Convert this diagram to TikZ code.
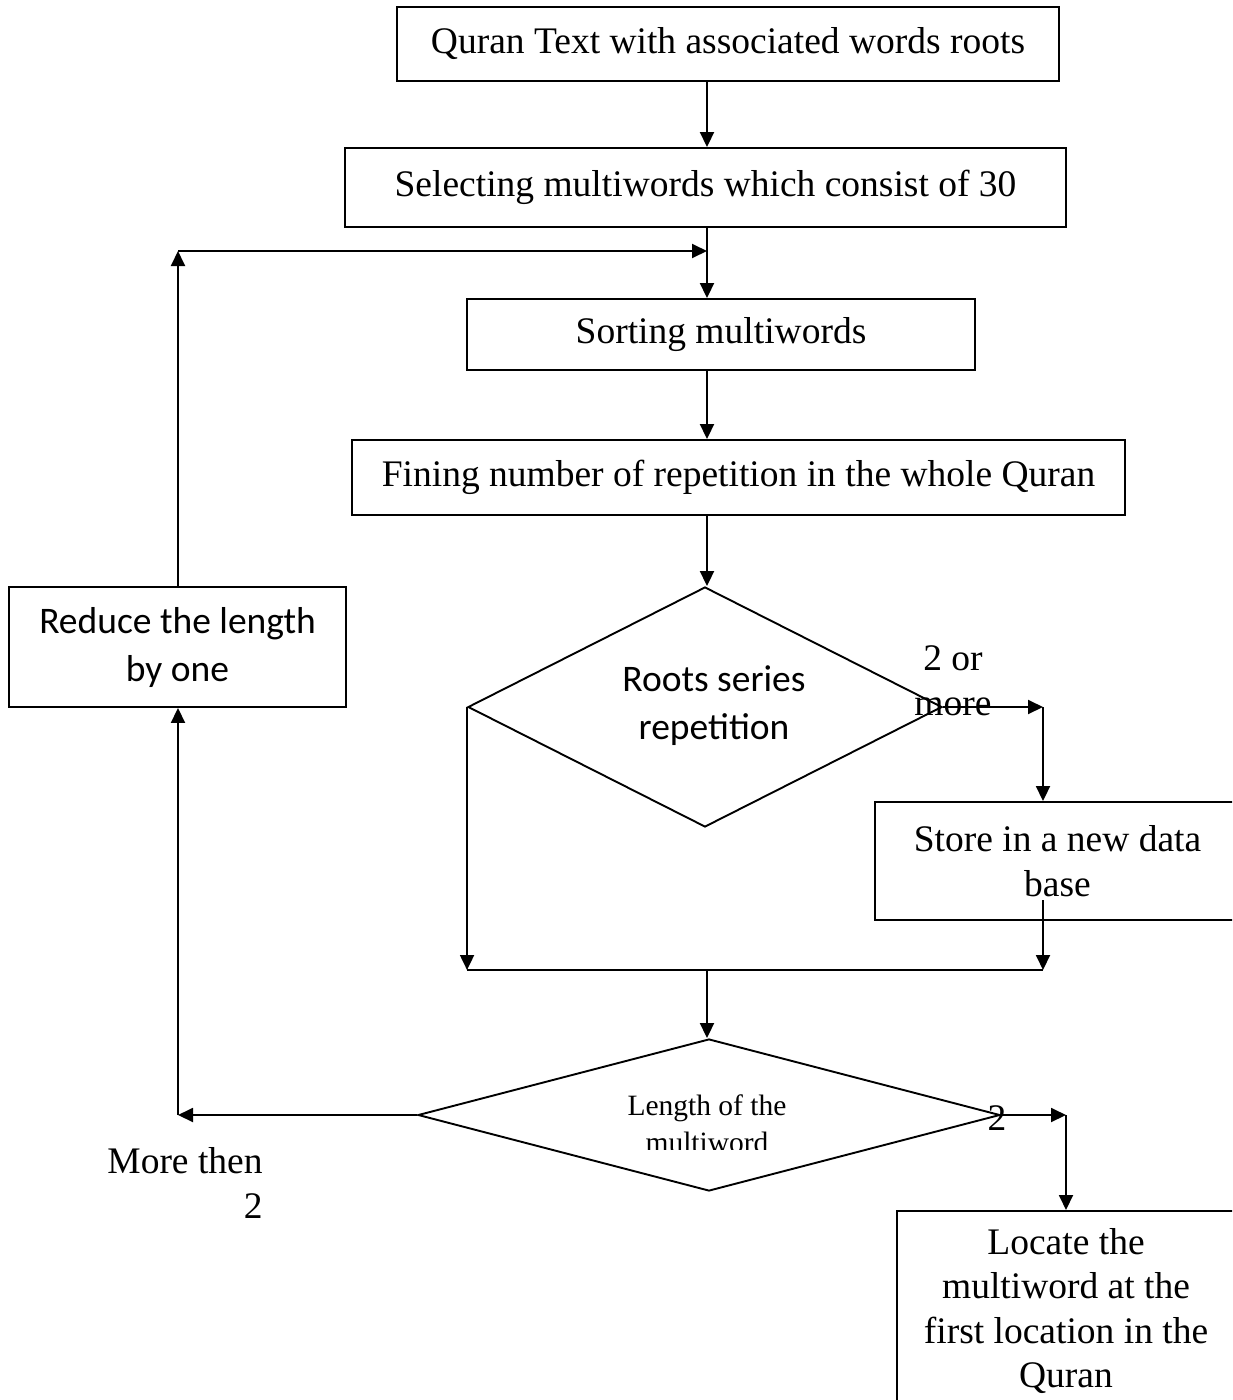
\documentclass[tikz,border=0pt]{standalone}
\usepackage{fontspec}
\setmainfont{Liberation Serif}
\newfontfamily\calib{Carlito}
\usetikzlibrary{shapes.geometric,arrows.meta}
\begin{document}
\begin{tikzpicture}[x=1pt,y=-1pt,
  every node/.style={font=\fontsize{37.5}{44.5}\selectfont},
  box/.style={draw,line width=1.9pt,rectangle,inner sep=0pt,align=center,fill=white},
  dia/.style={draw,line width=1.9pt,diamond,aspect=2,inner sep=0pt,align=center},
  conn/.style={line width=1.9pt},
  arr/.style={line width=1.9pt,-{Triangle[length=15pt,width=14pt]}},
  lbl/.style={inner sep=0pt,align=center}]
\useasboundingbox (0,0) rectangle (1232,1400);
\clip (0,0) rectangle (1232,1400);
\fill[white] (0,0) rectangle (1232,1400);
\coordinate (spine) at (707,0);
\coordinate (lspine) at (178,0);
% boxes
\node[box,minimum width=662pt,minimum height=74pt] (b1) at (728,44) {Quran Text with associated words roots};
\node[box,minimum width=721pt,minimum height=79pt] (b2) at (705.5,187.5) {Selecting multiwords which consist of 30};
\node[box,minimum width=508pt,minimum height=71pt] (b3) at (721,334.5) {Sorting multiwords};
\node[box,minimum width=773pt,minimum height=75pt] (b4) at (738.5,477.5) {Fining number of repetition in the whole Quran};
\node[dia,minimum width=474pt,minimum height=240pt] (d1) at (705,707) {};
\node[lbl,font=\calib\fontsize{37.5}{48}\selectfont] (d1t) at (714,706) {Roots series\\repetition};
\node[box,minimum width=365pt,minimum height=118pt] (s) at (1057.5,861) {Store in a new data\\base};
\node[box,minimum width=337pt,minimum height=120pt,font=\calib\fontsize{37.5}{48}\selectfont] (r) at (177.5,647) {Reduce the length\\by one};
\node[dia,minimum width=582pt,minimum height=152pt] (d2) at (709,1115) {};
\begin{scope}
\clip (560,1085) rectangle (860,1149);
\node[lbl,font=\fontsize{29.5}{37}\selectfont,anchor=north] (d2t) at (707,1095) {Length of the\\multiword};
\end{scope}
\node[box,minimum width=338pt,minimum height=200pt,anchor=north] (loc) at (1066,1210) {Locate the\\multiword at the\\first location in the\\Quran};
% labels
\node[lbl] (l2more) at (953,681) {2 or\\more};
\node[lbl] (l2) at (997,1118) {2};
\node[lbl,align=right] (lmore) at (185,1183) {More then\\2};
% coordinates
\coordinate (loopc) at (178,251);
\coordinate (rj) at (1043,707);
\coordinate (sbot) at (1043,900);
\coordinate (mL) at (466,970);
\coordinate (mR) at (1043,970);
\coordinate (lj) at (1066,1115);
% connectors
\draw[arr] (b1.south -| spine) -- (b2.north -| spine);
\draw[conn] (b2.south -| spine) -- (loopc -| spine);
\draw[arr] (loopc -| spine) -- (b3.north -| spine);
\draw[arr] (b3.south -| spine) -- (b4.north -| spine);
\draw[arr] (b4.south -| spine) -- (d1.north -| spine);
\draw[arr] (d1.east) -- (d1.east -| rj);
\draw[arr] (d1.east -| rj) -- (s.north -| rj);
\draw[arr] (sbot) -- (mR);
\draw[arr] (d1.west) -- (d1.west |- mL);
\draw[conn] (d1.west |- mL) -- (mR);
\draw[arr] (mL -| spine) -- (d2.north -| spine);
\draw[arr] (d2.east) -- (d2.east -| lj);
\draw[arr] (d2.east -| lj) -- (loc.north -| lj);
\draw[arr] (d2.west) -- (d2.west -| lspine);
\draw[arr] (d2.west -| lspine) -- (r.south -| lspine);
\draw[arr] (r.north -| lspine) -- (loopc);
\draw[arr] (loopc) -- (loopc -| spine);
\end{tikzpicture}
\end{document}
